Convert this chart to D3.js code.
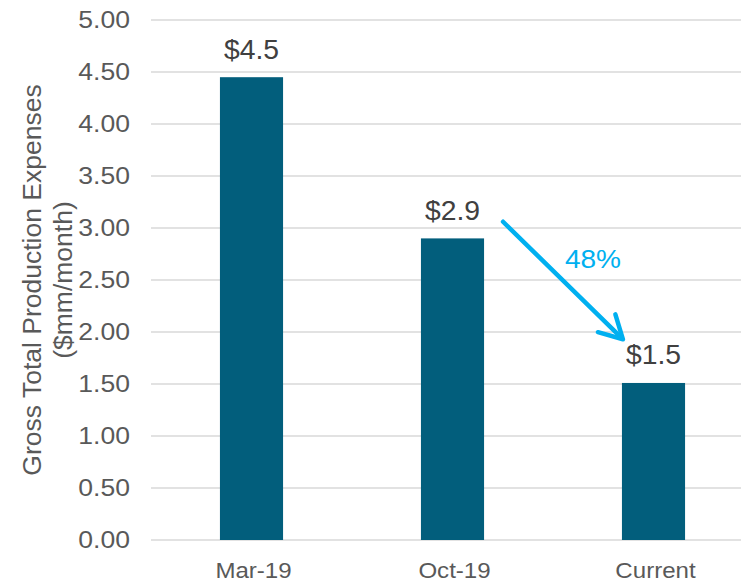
<!DOCTYPE html>
<html>
<head>
<meta charset="utf-8">
<script src="https://cdn.jsdelivr.net/npm/d3@7"></script>
<style>
  body { margin: 0; background: #fff; }
  text { font-family: "Liberation Sans", Arial, sans-serif; }
</style>
</head>
<body>
<div id="chart"></div>
<script>
const categories = ["Mar-19", "Oct-19", "Current"];
const values = [4.45, 2.9, 1.51];
const valueLabels = ["$4.5", "$2.9", "$1.5"];
const yTicks = [0, 0.5, 1, 1.5, 2, 2.5, 3, 3.5, 4, 4.5, 5];
const changeLabel = "48%";

const width = 741, height = 579;
const svg = d3.select("#chart").append("svg")
    .attr("width", width)
    .attr("height", height);

const x = d3.scaleBand()
    .domain(categories)
    .range([151, 754])
    .paddingInner(0.686)
    .paddingOuter(0.343);

const y = d3.scaleLinear()
    .domain([0, 5])
    .range([540, 20]);

// text drawn a little wide, like the reference
const place = (px, py, sx) => `translate(${px},${py}) scale(${sx},1)`;

// gridlines
svg.append("g")
    .selectAll("line")
    .data(yTicks)
    .join("line")
    .attr("x1", 151)
    .attr("x2", width)
    .attr("y1", d => y(d))
    .attr("y2", d => y(d))
    .attr("stroke", "#d9d9d9")
    .attr("stroke-width", 1.5);

// y axis tick labels
svg.append("g")
    .selectAll("text")
    .data(yTicks)
    .join("text")
    .attr("transform", d => place(130, y(d), 1.13))
    .attr("dy", "0.36em")
    .attr("text-anchor", "end")
    .attr("font-size", 23.5)
    .attr("fill", "#595959")
    .text(d => d3.format(".2f")(d));

// bars
svg.append("g")
    .selectAll("rect")
    .data(values)
    .join("rect")
    .attr("x", (d, i) => x(categories[i]))
    .attr("y", d => y(d))
    .attr("width", x.bandwidth())
    .attr("height", d => y(0) - y(d))
    .attr("fill", "#025e7c");

// value labels
svg.append("g")
    .selectAll("text")
    .data(values)
    .join("text")
    .attr("transform", (d, i) => place(x(categories[i]) + x.bandwidth() / 2, y(d) - 18.5, 1.03))
    .attr("text-anchor", "middle")
    .attr("font-size", 27.5)
    .attr("fill", "#404040")
    .text((d, i) => valueLabels[i]);

// x labels
svg.append("g")
    .selectAll("text")
    .data(categories)
    .join("text")
    .attr("transform", d => place(x(d) + x.bandwidth() / 2 + 2, 577.5, 1.07))
    .attr("text-anchor", "middle")
    .attr("font-size", 22.5)
    .attr("fill", "#595959")
    .text(d => d);

// y axis title
const title = svg.append("text")
    .attr("transform", `translate(0,${(y(0) + y(5)) / 2}) rotate(-90)`)
    .attr("text-anchor", "middle")
    .attr("font-size", 26.5)
    .attr("fill", "#595959");
title.append("tspan").attr("x", 0).attr("y", 41).text("Gross Total Production Expenses");
title.append("tspan").attr("x", 0).attr("y", 72).text("($mm/month)");

// change arrow
const x0 = x("Oct-19") + x.bandwidth() + 19, y0 = y(3.06);
const x1 = x("Current") + 1, y1 = y(1.93);
const ang = Math.atan2(y1 - y0, x1 - x0);
const head = 26, spread = 0.5;
const blue = "#00b0f0";
svg.append("line")
    .attr("x1", x0).attr("y1", y0)
    .attr("x2", x1 - 2 * Math.cos(ang)).attr("y2", y1 - 2 * Math.sin(ang))
    .attr("stroke", blue)
    .attr("stroke-width", 4.5)
    .attr("stroke-linecap", "round");
svg.append("path")
    .attr("d", `M${x1 - head * Math.cos(ang - spread)},${y1 - head * Math.sin(ang - spread)}` +
        `L${x1},${y1}` +
        `L${x1 - head * Math.cos(ang + spread)},${y1 - head * Math.sin(ang + spread)}`)
    .attr("fill", "none")
    .attr("stroke", blue)
    .attr("stroke-width", 4.5)
    .attr("stroke-linecap", "round")
    .attr("stroke-linejoin", "round");

svg.append("text")
    .attr("transform", place(x("Current") - 29, y(2.62), 1.1))
    .attr("text-anchor", "middle")
    .attr("font-size", 25.5)
    .attr("fill", blue)
    .text(changeLabel);
</script>
</body>
</html>
